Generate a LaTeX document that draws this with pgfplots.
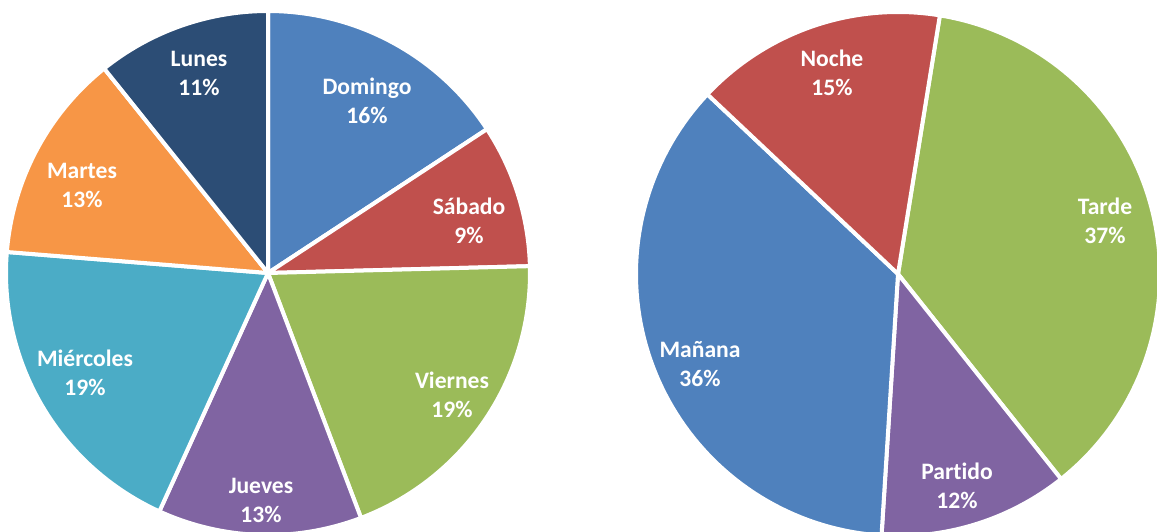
\documentclass[border=0pt]{standalone}
\usepackage{fontspec}
\setmainfont[Ligatures={NoCommon}]{Carlito}
\usepackage{pgfplots}
\pgfplotsset{compat=1.18}
\definecolor{cBlue}{HTML}{4F81BD}
\definecolor{cRed}{HTML}{C0504D}
\definecolor{cGreen}{HTML}{9BBB59}
\definecolor{cPurple}{HTML}{8064A2}
\definecolor{cAqua}{HTML}{4BACC6}
\definecolor{cOrange}{HTML}{F79646}
\definecolor{cNavy}{HTML}{2C4D75}

% one slice: #1 colour, #2 start angle, #3 end angle, #4 cx, #5 cy, #6 radius
\newcommand{\slice}[6]{%
  \addplot[fill=#1, draw=white, line width=2pt, line join=round,
    domain=#2:#3, samples=80]
    ({#4+#6*cos(x)},{#5+#6*sin(x)}) -- (axis cs:#4,#5) -- cycle;}

\tikzset{lbl/.style={font=\fontsize{11.8}{14.5}\selectfont\bfseries,
  text=white, align=center, inner sep=0pt}}

\begin{document}
\begin{tikzpicture}
  \begin{axis}[
    width=578.5pt, height=265.5pt, scale only axis,
    xmin=0, xmax=1157, ymin=0, ymax=531,
    hide axis, clip=true
  ]
    % days: percentages 16, 9, 19, 13, 19, 13, 11 (clockwise from top)
    \slice{cBlue}{33.3}{90}{268}{258}{262}
    \slice{cRed}{1.5}{33.3}{268}{258}{262}
    \slice{cGreen}{-69.2}{1.5}{268}{258}{262}
    \slice{cPurple}{-114.5}{-69.2}{268}{258}{262}
    \slice{cAqua}{-184.6}{-114.5}{268}{258}{262}
    \slice{cOrange}{-231.3}{-184.6}{268}{258}{262}
    \slice{cNavy}{-270}{-231.3}{268}{258}{262}

    % time of day: 37, 12, 36, 15
    \slice{cGreen}{-51.5}{80.8}{898}{257}{262}
    \slice{cPurple}{-93.6}{-51.5}{898}{257}{262}
    \slice{cBlue}{-223.3}{-93.6}{898}{257}{262}
    \slice{cRed}{-279.2}{-223.3}{898}{257}{262}

    \node[lbl] at (axis cs:199,458) {Lunes\\11\%};
    \node[lbl] at (axis cs:367,430) {Domingo\\16\%};
    \node[lbl] at (axis cs:469,310) {Sábado\\9\%};
    \node[lbl] at (axis cs:452,136) {Viernes\\19\%};
    \node[lbl] at (axis cs:261,31) {Jueves\\13\%};
    \node[lbl] at (axis cs:85,158) {Miércoles\\19\%};
    \node[lbl] at (axis cs:82,346) {Martes\\13\%};

    \node[lbl] at (axis cs:832,458) {Noche\\15\%};
    \node[lbl] at (axis cs:1105,310) {Tarde\\37\%};
    \node[lbl] at (axis cs:700,167) {Mañana\\36\%};
    \node[lbl] at (axis cs:957,45) {Partido\\12\%};
  \end{axis}
  \pgfresetboundingbox
  \useasboundingbox (current axis.south west) rectangle (current axis.north east);
\end{tikzpicture}
\end{document}
